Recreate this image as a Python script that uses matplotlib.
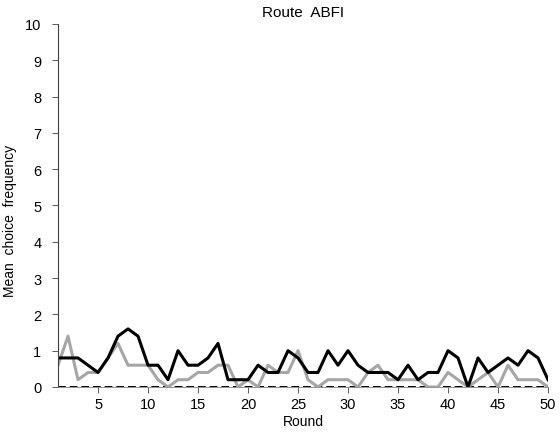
import numpy as np
from matplotlib import pyplot as plt

plt.rcParams['font.family'] = ['Liberation Sans', 'DejaVu Sans']

rounds = np.arange(1, 51)
black = [0.8, 0.8, 0.8, 0.6, 0.4, 0.8, 1.4, 1.6, 1.4, 0.6,
         0.6, 0.2, 1.0, 0.6, 0.6, 0.8, 1.2, 0.2, 0.2, 0.2,
         0.6, 0.4, 0.4, 1.0, 0.8, 0.4, 0.4, 1.0, 0.6, 1.0,
         0.6, 0.4, 0.4, 0.4, 0.2, 0.6, 0.2, 0.4, 0.4, 1.0,
         0.8, 0.0, 0.8, 0.4, 0.6, 0.8, 0.6, 1.0, 0.8, 0.2]
gray = [0.6, 1.4, 0.2, 0.4, 0.4, 0.8, 1.2, 0.6, 0.6, 0.6,
        0.2, 0.0, 0.2, 0.2, 0.4, 0.4, 0.6, 0.6, 0.0, 0.2,
        0.0, 0.6, 0.4, 0.4, 1.0, 0.2, 0.0, 0.2, 0.2, 0.2,
        0.0, 0.4, 0.6, 0.2, 0.2, 0.2, 0.2, 0.0, 0.0, 0.4,
        0.2, 0.0, 0.2, 0.4, 0.0, 0.6, 0.2, 0.2, 0.2, 0.0]
zero = [0.0] * 50

fig = plt.figure(figsize=(5.6, 4.39), dpi=100)
ax = fig.add_axes([0.1036, 0.1162, 0.875, 0.827])

ax.plot(rounds, zero, color='black', lw=1.4, ls=(0, (4, 2)))
ax.plot(rounds, gray, color='#a6a6a6', lw=2.2)
ax.plot(rounds, black, color='black', lw=2.2)

ax.set_xlim(1, 50)
ax.set_ylim(0, 10)
ax.set_xticks(range(5, 51, 5))
ax.set_yticks(range(0, 11))
ax.spines['top'].set_visible(False)
ax.spines['right'].set_visible(False)
ax.spines['left'].set_color('#404040')
ax.spines['bottom'].set_color('#808080')
ax.spines['left'].set_linewidth(0.8)
ax.spines['bottom'].set_linewidth(0.6)
ax.tick_params(axis='both', labelsize=10.5, length=4, width=0.6, color='#404040', direction='out')
ax.tick_params(axis='y', pad=8)

ax.set_title('Route  ABFI', fontsize=11, pad=6)
ax.set_xlabel('Round', fontsize=10, labelpad=2)
ax.set_ylabel('Mean  choice  frequency', fontsize=10)
ax.yaxis.set_label_coords(-0.083, 0.46)

fig.savefig('out.png', dpi=100)
